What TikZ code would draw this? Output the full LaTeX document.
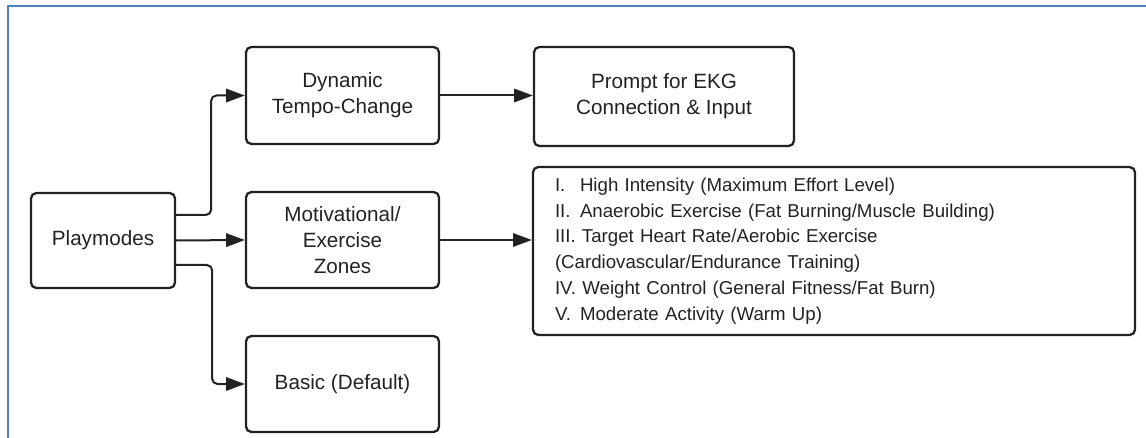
\documentclass[tikz,border=0pt]{standalone}
\usepackage{fontspec}
\setmainfont{Liberation Sans}
\usetikzlibrary{arrows.meta,calc}
\definecolor{framecol}{HTML}{4F81BD}
\definecolor{inkcol}{HTML}{222222}
\begin{document}
\begin{tikzpicture}[x=0.75pt,y=-0.75pt,
  box/.style={draw=inkcol,line width=1.7pt,rounded corners=4pt,align=center,
    text=inkcol,font=\fontsize{15.5}{19.5}\selectfont,inner sep=0pt},
  conn/.style={draw=inkcol,line width=1.5pt,rounded corners=4pt,
    -{Triangle[length=14pt,width=10pt]}},
  frameline/.style={draw=framecol,line width=1.6pt}]
\useasboundingbox (0,0) rectangle (1146,438);
% frame along the left and top edges
\draw[frameline] (8,438) -- (8,6) -- (1146,6);

% boxes
\node[box,minimum width=144*0.75pt,minimum height=95*0.75pt] (play) at (103,240.5) {Playmodes};
\node[box,minimum width=193*0.75pt,minimum height=97*0.75pt] (dyn) at (342.5,95.5) {Dynamic\\Tempo-Change};
\node[box,minimum width=260*0.75pt,minimum height=99*0.75pt] (prompt) at (664,96.5) {Prompt for EKG\\Connection \& Input};
\node[box,minimum width=193*0.75pt,minimum height=96*0.75pt] (motiv) at (342.5,240) {Motivational/\\Exercise\\Zones};
\node[box,minimum width=193*0.75pt,minimum height=96*0.75pt] (basic) at (342.5,384) {Basic (Default)};
\node[box,minimum width=602*0.75pt,minimum height=168*0.75pt,align=left,
  text width=418.5pt,inner xsep=16.5pt,font=\fontsize{14}{19.3}\selectfont] (zones) at (834,251)
  {\makebox[18.75pt][l]{I.}High Intensity (Maximum Effort Level)\\
   \makebox[18.75pt][l]{II.}Anaerobic Exercise (Fat Burning/Muscle Building)\\
   III. Target Heart Rate/Aerobic Exercise\\
   (Cardiovascular/Endurance Training)\\
   IV. Weight Control (General Fitness/Fat Burn)\\
   \makebox[18.75pt][l]{V.}Moderate Activity (Warm Up)};

% connectors
\draw[conn] ($(play.east)+(0,-25.5)$) -- ++(35,0) |- (dyn.west);
\draw[conn] (play.east) -- (motiv.west);
\draw[conn] ($(play.east)+(0,24.5)$) -- ++(36,0) |- (basic.west);
\draw[conn] (dyn.east) -- (dyn.east -| prompt.west);
\draw[conn] (motiv.east) -- (motiv.east -| zones.west);
\end{tikzpicture}
\end{document}
